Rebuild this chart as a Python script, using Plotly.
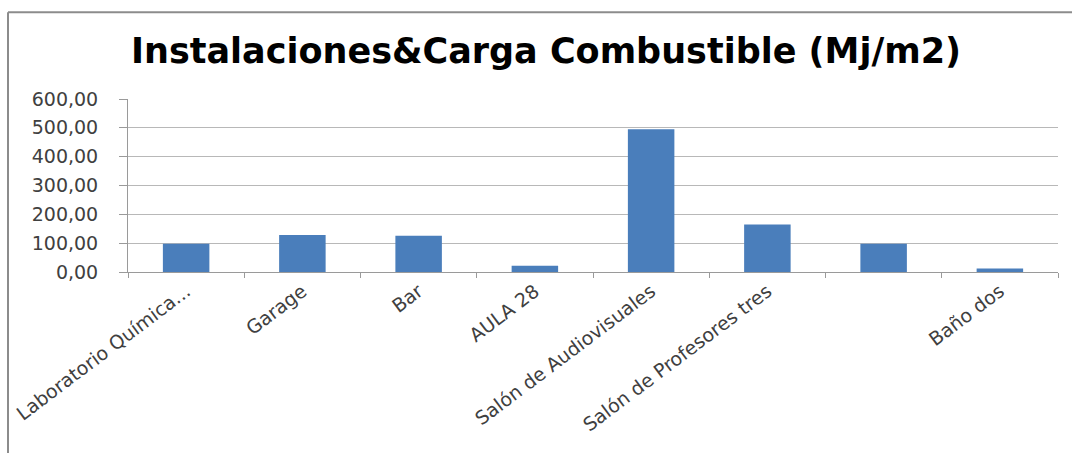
import plotly.graph_objects as go

categories = ["Laboratorio Química...", "Garage", "Bar", "AULA 28",
              "Salón de Audiovisuales", "Salón de Profesores tres", " ", "Baño dos"]
values = [98, 128, 126, 22, 495, 165, 98, 12]
y_ticks = [0, 100, 200, 300, 400, 500, 600]

fig = go.Figure()
fig.add_trace(go.Bar(x=categories, y=values, marker=dict(color="#4a7ebb", line=dict(width=0)),
                     width=0.4))

fig.update_layout(
    width=1072, height=453,
    margin=dict(l=128, r=14, t=99, b=181),
    paper_bgcolor="white", plot_bgcolor="white",
    separators=",.",
    showlegend=False,
    title=dict(text="<b>Instalaciones&Carga Combustible (Mj/m2)</b>",
               x=(546 - 128) / 930, xref="paper", xanchor="center", y=1 - 51/453, yanchor="middle",
               font=dict(family="DejaVu Sans", size=35, color="#000000")),
    font=dict(family="DejaVu Sans", color="#404040"),
    bargap=0.6,
)
fig.update_xaxes(type="category", tickangle=-37, tickfont=dict(size=19, color="#404040"),
                 showline=True, linecolor="#9a9a9a", linewidth=1,
                 ticks="outside", ticklen=5, tickcolor="#9a9a9a", tickson="boundaries",
                 showgrid=False)
fig.update_yaxes(range=[0, 600], tickvals=y_ticks, tickformat=".2f",
                 tickfont=dict(size=19, color="#404040"), ticklabelstandoff=17,
                 showline=True, linecolor="#9a9a9a", linewidth=1,
                 ticks="outside", ticklen=8, tickcolor="#9a9a9a",
                 showgrid=True, gridcolor="#b8b8b8", gridwidth=1, zeroline=False)

# outer chart border (top and left edges visible)
fig.add_shape(type="line", xref="paper", yref="paper",
              x0=(8 - 128) / 930, x1=1.2, y0=(272.7 - 12) / 173.7, y1=(272.7 - 12) / 173.7,
              line=dict(color="#8c8c8c", width=2))
fig.add_shape(type="line", xref="paper", yref="paper",
              x0=(8 - 128) / 930, x1=(8 - 128) / 930, y0=(272.7 - 12) / 173.7, y1=-2,
              line=dict(color="#8c8c8c", width=2))

fig.write_html("out.html")
